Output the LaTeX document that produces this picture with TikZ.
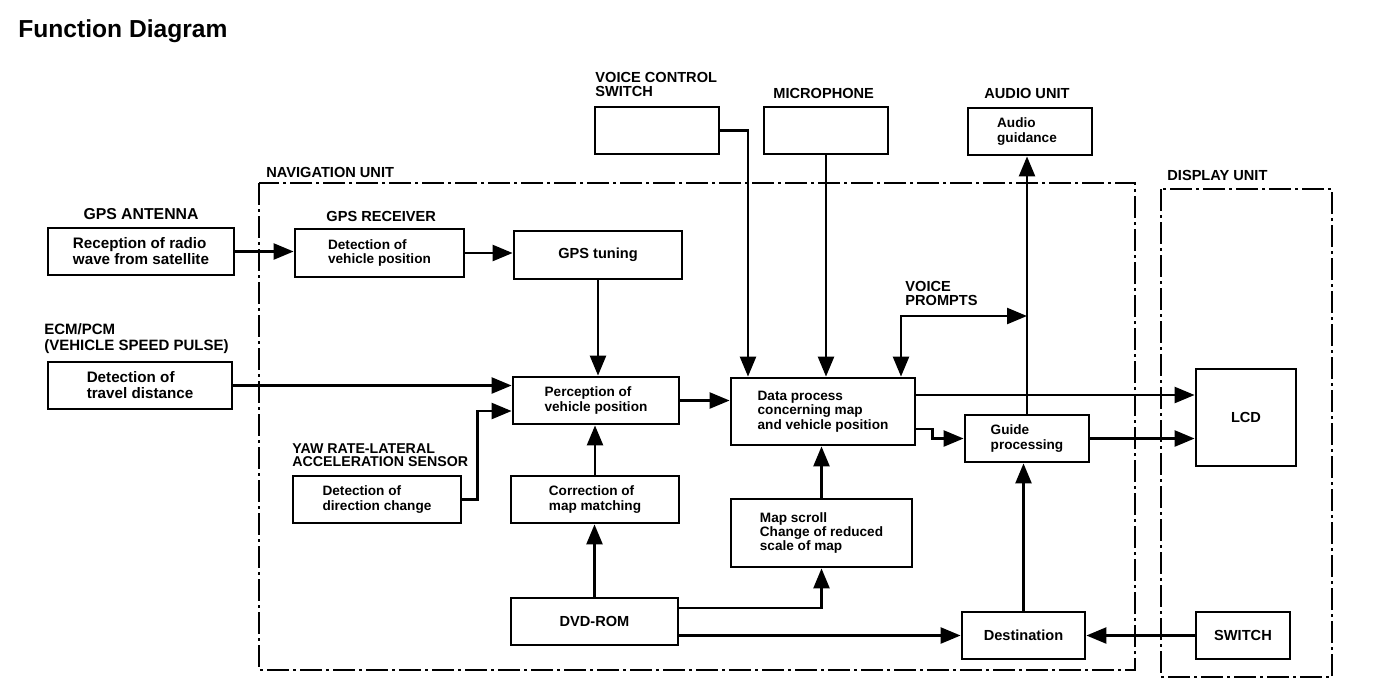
\documentclass[tikz,border=0pt]{standalone}
\usepackage{fontspec}
\setmainfont{Liberation Sans}
\usetikzlibrary{arrows.meta}
\begin{document}
\begin{tikzpicture}[x=0.5pt,y=-0.5pt,
  box/.style={draw,line width=1.4pt,inner sep=0pt,align=left,font=\bfseries\fontsize{6.8}{7.2}\selectfont},
  obox/.style={box,font=\bfseries\fontsize{7.6}{8}\selectfont},
  sbox/.style={box,font=\bfseries\fontsize{7.3}{8}\selectfont},
  lbl/.style={inner sep=0pt,anchor=west,align=left,font=\bfseries\fontsize{7.3}{6.8}\selectfont},
  arr/.style={line width=1.2pt,-{Triangle[length=10pt,width=8pt]}},
  darr/.style={line width=1.2pt,{Triangle[length=10pt,width=8pt]}-{Triangle[length=10pt,width=8pt]}},
  unitbox/.style={line width=0.8pt,dash pattern=on 11pt off 2pt on 1.5pt off 2pt}
]
\useasboundingbox (0,0) rectangle (1392,692);

% title
\node[inner sep=0pt,anchor=west,font=\bfseries\fontsize{12.3}{14}\selectfont] (title) at (18,31) {Function Diagram};

% unit frames
\draw[unitbox] (259,183) rectangle (1135,670);
\draw[unitbox] (1161,189) rectangle (1332,677);

% labels
\node[lbl,anchor=center,font=\bfseries\fontsize{7.9}{8}\selectfont] (lant) at (141,214) {GPS ANTENNA};
\node[lbl] (lrcv) at (326,216) {GPS RECEIVER};
\node[lbl] (lnav) at (266,172) {NAVIGATION UNIT};
\node[lbl,font=\bfseries\fontsize{7.3}{6.6}\selectfont] (lvcs) at (595,84.5) {VOICE CONTROL\\SWITCH};
\node[lbl] (lmic) at (773,93) {MICROPHONE};
\node[lbl] (laud) at (984,93) {AUDIO UNIT};
\node[lbl] (ldis) at (1167,175) {DISPLAY UNIT};
\node[lbl,font=\bfseries\fontsize{7.3}{6.6}\selectfont] (lvp) at (905,293.5) {VOICE\\PROMPTS};
\node[lbl,font=\bfseries\fontsize{7.5}{8}\selectfont] (lecm) at (44,339) {ECM/PCM\\(VEHICLE SPEED PULSE)};
\node[lbl,font=\bfseries\fontsize{7.1}{6.6}\selectfont] (lyaw) at (292,455.5) {YAW RATE-LATERAL\\ACCELERATION SENSOR};

% boxes
\node[obox,minimum width=93pt,minimum height=23.5pt] (ant) at (141,251.5) {Reception of radio\\wave from satellite};
\node[obox,minimum width=92pt,minimum height=23.5pt] (ecm) at (140,385.5) {Detection of\\travel distance};
\node[box,minimum width=84.5pt,minimum height=24pt] (rcv) at (379.5,253) {Detection of\\vehicle position};
\node[sbox,minimum width=84pt,minimum height=24pt] (tun) at (598,255) {GPS tuning};
\node[box,minimum width=83pt,minimum height=23.5pt] (per) at (596,400.5) {Perception of\\vehicle position};
\node[box,minimum width=84pt,minimum height=23.5pt] (yaw) at (377,499.5) {Detection of\\direction change};
\node[box,minimum width=84pt,minimum height=23.5pt] (cor) at (595,499.5) {Correction of\\map matching};
\node[sbox,minimum width=83.5pt,minimum height=23.5pt] (dvd) at (594.5,621.5) {DVD-ROM};
\node[box,minimum width=62pt,minimum height=23.5pt] (vcs) at (657,130.5) {};
\node[box,minimum width=62pt,minimum height=23.5pt] (mic) at (826,130.5) {};
\node[box,minimum width=62pt,minimum height=23.5pt] (aud) at (1030,131.5) {Audio\\guidance\hspace*{3pt}};
\node[box,minimum width=92pt,minimum height=33.5pt] (dat) at (823,411.5) {Data process\\concerning map\\and vehicle position};
\node[box,minimum width=90.5pt,minimum height=34pt] (map) at (821.5,533) {Map scroll\\Change of reduced\\scale of map};
\node[box,minimum width=62pt,minimum height=23.5pt] (gui) at (1027,438.5) {Guide\\processing};
\node[sbox,minimum width=61.5pt,minimum height=23.5pt] (dst) at (1023.5,635.5) {Destination};
\node[sbox,minimum width=47pt,minimum height=23.5pt] (sw) at (1243,635.5) {SWITCH};
\node[sbox,minimum width=50pt,minimum height=48.5pt] (lcd) at (1246,417.5) {LCD};

% connectors
\draw[arr] (ant.east) -- (ant.east -| rcv.west);
\draw[arr] (rcv.east) -- (rcv.east -| tun.west);
\draw[arr] (tun.south) -- (tun.south |- per.north);
\draw[arr] (ecm.east) -- (ecm.east -| per.west);
\draw[arr] (yaw.east) -- ++(15,0) |- ([yshift=-5.25pt]per.west);
\draw[arr] (cor.north) -- (cor.north |- per.south);
\draw[arr] (dvd.north) -- (dvd.north |- cor.south);
\draw[arr] (per.east) -- (per.east -| dat.west);
\draw[arr] (vcs.east) -| ([xshift=-37.5pt]dat.north);
\draw[arr] (mic.south) -- (mic.south |- dat.north);
\coordinate (vpj) at (gui.north |- 0,316);
\draw[darr] ([xshift=39pt]dat.north) |- (vpj);
\draw[arr] (gui.north) -- (gui.north |- aud.south);
\draw[arr] ([yshift=8.25pt]dat.east) -- ([yshift=8.25pt]dat.east -| lcd.west);
\draw[arr] ([yshift=-8.75pt]dat.east) -- ++(16,0) |- (gui.west);
\draw[arr] (gui.east) -- (gui.east -| lcd.west);
\draw[arr] (map.north) -- (map.north |- dat.south);
\draw[arr] ([yshift=6.75pt]dvd.east) -| (map.south);
\draw[arr] (dvd.east |- dst.west) -- (dst.west);
\draw[arr] (sw.west) -- (dst.east);
\draw[arr] (dst.north) -- (dst.north |- gui.south);
\end{tikzpicture}
\end{document}
